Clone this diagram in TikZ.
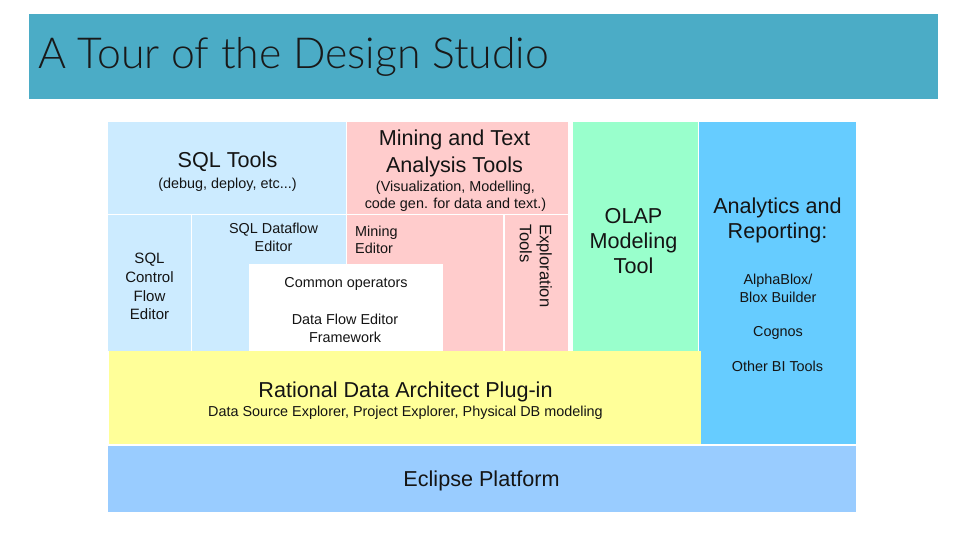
\documentclass[tikz,border=0pt]{standalone}
\usepackage{fontspec}
\setmainfont{Liberation Sans}
\newfontfamily\titlefont{Lato Light}
\definecolor{titlebg}{HTML}{4BACC6}
\definecolor{sqlblue}{HTML}{CCEBFF}
\definecolor{minepink}{HTML}{FFCCCC}
\definecolor{olapgreen}{HTML}{99FFCC}
\definecolor{anablue}{HTML}{66CCFF}
\definecolor{ratyellow}{HTML}{FFFF99}
\definecolor{eclblue}{HTML}{99CCFF}
\definecolor{inktext}{HTML}{141414}
\tikzset{
  lbl/.style={align=center,inner sep=0pt,text=inktext},
  big/.style={lbl,font=\fontsize{21.6}{25}\selectfont},
  midt/.style={lbl,font=\fontsize{15}{18.7}\selectfont},
  small/.style={lbl,font=\fontsize{14.4}{17.3}\selectfont}
}
\begin{document}
\begin{tikzpicture}[x=1pt,y=-1pt]
\useasboundingbox (0,0) rectangle (960,540);
\fill[white] (0,0) rectangle (960,540);
\fill[titlebg] (29,14) rectangle (938,99);
\fill[sqlblue] (108,122) rectangle (346,213.5);
\fill[sqlblue] (108,215) rectangle (190.5,351);
\fill[sqlblue] (192,215) rectangle (346,351);
\fill[minepink] (347,122) rectangle (568,213.5);
\fill[minepink] (347,215) rectangle (503,351);
\fill[minepink] (505,215) rectangle (568,351);
\fill[olapgreen] (573,122) rectangle (698,351);
\fill[anablue] (699,122) rectangle (855.5,443.5);
\fill[white] (249,264) rectangle (443,351);
\fill[ratyellow] (109,350.5) rectangle (700.5,443.5);
\fill[eclblue] (108,446) rectangle (856,512);
\node[anchor=base west,inner sep=0pt,font=\fontsize{42.75}{50}\selectfont\titlefont,text=black!90] (title) at (38,68.5) {A Tour of the Design Studio};
\node[big] (sqltools) at (227.5,161.5) {SQL Tools};
\node[small] (sqlsub) at (227.5,184.5) {(debug, deploy, etc...)};
\node[big,font=\fontsize{21.6}{27.5}\selectfont] (minetools) at (454.5,153.5) {Mining and Text\\Analysis Tools};
\node[small] (minesub) at (455.5,196) {(Visualization, Modelling,\\code gen. for data and text.)};
\node[midt] (ctrl) at (149.5,286.5) {SQL\\Control\\Flow\\Editor};
\node[small] (dataflow) at (273.5,237.5) {SQL Dataflow\\Editor};
\node[small,align=left,anchor=north west] (mineed) at (355,225.5) {Mining\\Editor};
\node[small] (common) at (346,284) {Common operators};
\node[small] (framework) at (345,328.5) {Data Flow Editor\\Framework};
\node[midt,font=\fontsize{16.6}{20}\selectfont,align=left,rotate=-90,anchor=north west] (explore) at (552,224) {Exploration\\Tools};
\node[big] (olap) at (633.5,241.5) {OLAP\\Modeling\\Tool};
\node[big] (ana) at (777.5,220.5) {Analytics and\\Reporting:};
\node[small] (alpha) at (778,288.5) {AlphaBlox/\\Blox Builder};
\node[small] (cognos) at (778,332.5) {Cognos};
\node[small] (other) at (777.5,366) {Other BI Tools};
\node[big] (rda) at (405.5,392) {Rational Data Architect Plug-in};
\node[small] (rdasub) at (405.5,412.5) {Data Source Explorer, Project Explorer, Physical DB modeling};
\node[big] (eclipse) at (481.5,481) {Eclipse Platform};
\end{tikzpicture}
\end{document}
